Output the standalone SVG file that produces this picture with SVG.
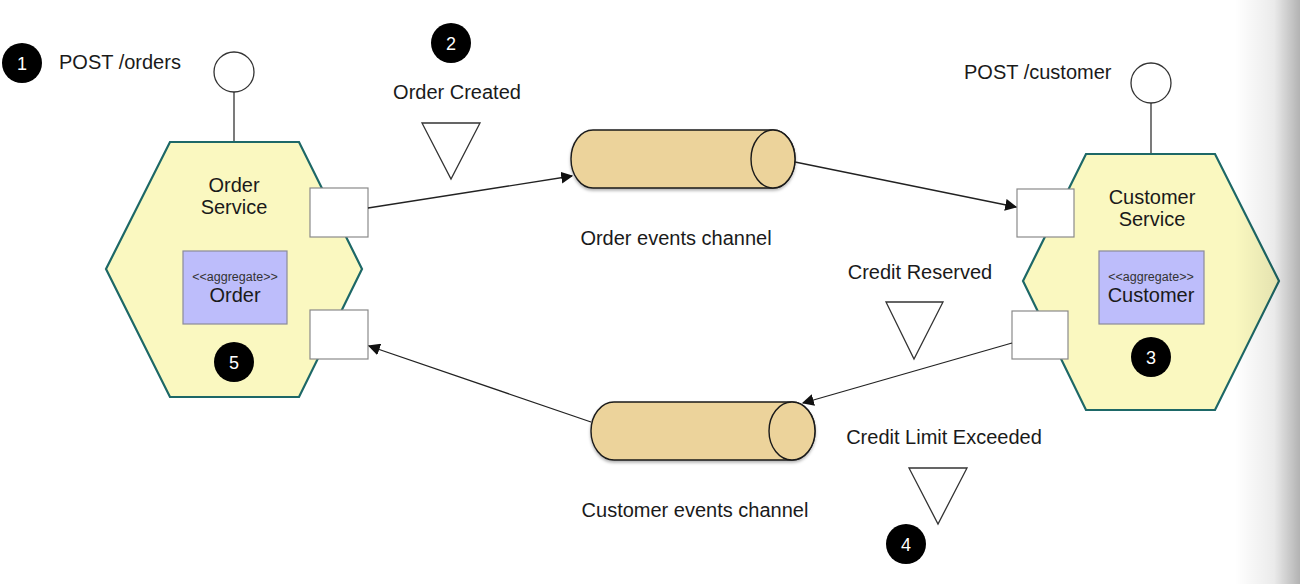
<svg xmlns="http://www.w3.org/2000/svg" width="1300" height="584" viewBox="0 0 1300 584">
<style>
text{font-family:"Liberation Sans",Arial,sans-serif;fill:#1a1a1a}
.lbl{font-size:20px}
.c{text-anchor:middle}
.hex{fill:#faf8c0;stroke:#1d6867;stroke-width:2.2}
.agg{fill:#bdbdfb;stroke:#8a8a9a;stroke-width:1.2}
.small{font-size:12.5px;fill:#333}
.port{fill:#fff;stroke:#8a8a8a;stroke-width:1.2}
.api{fill:#fff;stroke:#333;stroke-width:1.3}
.stem{stroke:#333;stroke-width:1.3;fill:none}
.num{fill:#000}
.numt{font-size:18px;fill:#fff;text-anchor:middle}
.tri{fill:#fff;stroke:#333;stroke-width:1.3}
.cyl{fill:#ecd39b;stroke:#1a1a1a;stroke-width:1.4}
.conn{stroke:#222;stroke-width:1.3;fill:none;marker-end:url(#arr)}
</style>
<defs>
<marker id="arr" viewBox="0 0 10 10" refX="9" refY="5" markerWidth="12" markerHeight="12" markerUnits="userSpaceOnUse" orient="auto">
<path d="M0,0 L10,5 L0,10 z" fill="#111"/>
</marker>
<filter id="sh" x="-10%" y="-20%" width="120%" height="150%">
<feDropShadow dx="0" dy="2" stdDeviation="1.5" flood-color="#000" flood-opacity="0.3"/>
</filter>
<linearGradient id="edge" x1="0" y1="0" x2="1" y2="0">
<stop offset="0" stop-color="#000" stop-opacity="0"/>
<stop offset="0.6" stop-color="#000" stop-opacity="0.08"/>
<stop offset="1" stop-color="#000" stop-opacity="0.3"/>
</linearGradient>
</defs>
<rect width="1300" height="584" fill="#fff"/>

<g id="step1">
<circle class="num" cx="22" cy="63" r="20"/>
<text class="numt" x="22" y="70">1</text>
<text class="lbl" x="59" y="69">POST /orders</text>
</g>

<g id="order-service">
<line class="stem" x1="234" y1="92" x2="234" y2="142"/>
<circle class="api" cx="234" cy="72" r="20"/>
<polygon class="hex" points="170,142 299,142 362,269 299,397 170,397 106,269"/>
<text class="lbl c" x="234" y="192">Order</text>
<text class="lbl c" x="234" y="214">Service</text>
<rect class="agg" x="183" y="251" width="104" height="73"/>
<text class="small c" x="235" y="281">&lt;&lt;aggregate&gt;&gt;</text>
<text class="lbl c" x="235" y="302">Order</text>
<circle class="num" cx="234" cy="362" r="20"/>
<text class="numt" x="234" y="369">5</text>
<rect class="port" x="310" y="188" width="58" height="49"/>
<rect class="port" x="310" y="310" width="58" height="49"/>
</g>

<g id="order-created">
<circle class="num" cx="451" cy="43" r="20"/>
<text class="numt" x="451" y="50">2</text>
<text class="lbl c" x="457" y="99">Order Created</text>
<polygon class="tri" points="422,123 480,123 451,179"/>
</g>

<g id="order-events-channel">
<path class="cyl" filter="url(#sh)" d="M593,130 L773,130 A22,29 0 0 1 773,188 L593,188 A22,29 0 0 1 593,130 Z"/>
<ellipse class="cyl" cx="773" cy="159" rx="22" ry="29"/>
<text class="lbl c" x="676" y="245">Order events channel</text>
</g>

<g id="customer-service">
<text class="lbl" x="964" y="79">POST /customer</text>
<line class="stem" x1="1151" y1="103" x2="1151" y2="154"/>
<circle class="api" cx="1151" cy="83" r="20"/>
<polygon class="hex" points="1086,154 1215,154 1279,281 1215,410 1086,410 1023,281"/>
<text class="lbl c" x="1152" y="204">Customer</text>
<text class="lbl c" x="1152" y="226">Service</text>
<rect class="agg" x="1099" y="251" width="105" height="73"/>
<text class="small c" x="1151" y="281">&lt;&lt;aggregate&gt;&gt;</text>
<text class="lbl c" x="1151" y="302">Customer</text>
<circle class="num" cx="1151" cy="357" r="20"/>
<text class="numt" x="1151" y="364">3</text>
<rect class="port" x="1017" y="189" width="57" height="48"/>
<rect class="port" x="1012" y="311" width="56" height="48"/>
</g>

<g id="credit-reserved">
<text class="lbl c" x="920" y="279">Credit Reserved</text>
<polygon class="tri" points="886,302 943,302 914,359"/>
</g>

<g id="customer-events-channel">
<path class="cyl" filter="url(#sh)" d="M614,402 L792,402 A23,29 0 0 1 792,460 L614,460 A23,29 0 0 1 614,402 Z"/>
<ellipse class="cyl" cx="792" cy="431" rx="23" ry="29"/>
<text class="lbl c" x="695" y="517">Customer events channel</text>
</g>

<g id="credit-limit-exceeded">
<text class="lbl c" x="944" y="444">Credit Limit Exceeded</text>
<polygon class="tri" points="909,468 967,468 938,524"/>
<circle class="num" cx="906" cy="544" r="20"/>
<text class="numt" x="906" y="551">4</text>
</g>

<g id="connectors">
<line class="conn" x1="368" y1="208" x2="572" y2="176"/>
<line class="conn" x1="795" y1="162" x2="1016" y2="207"/>
<line class="conn" x1="1012" y1="343" x2="803" y2="403"/>
<line class="conn" x1="591" y1="422" x2="369" y2="346"/>
</g>

<rect x="1235" y="0" width="65" height="584" fill="url(#edge)"/>
</svg>
